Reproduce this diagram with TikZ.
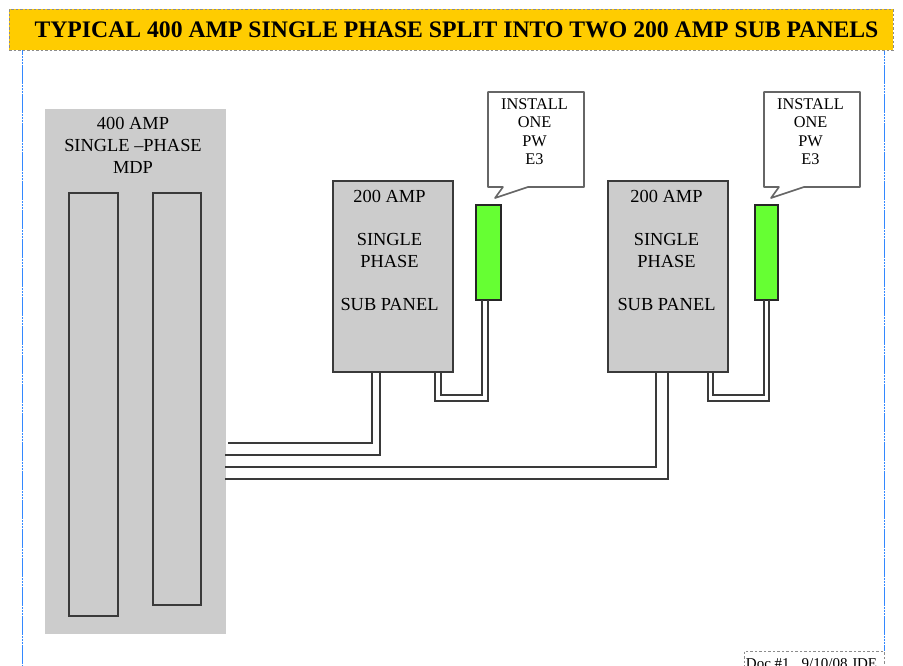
\documentclass[tikz,border=0pt]{standalone}
\usepackage{fontspec}
\setmainfont{Liberation Serif}
\definecolor{panelgrey}{HTML}{CCCCCC}
\definecolor{titlegold}{HTML}{FFCC00}
\definecolor{pwgreen}{HTML}{66FF33}
\definecolor{wirecol}{HTML}{3A3A3A}
\definecolor{edgeblue}{HTML}{3388FF}
\tikzset{
  x=1pt,y=-1pt,
  box/.style 2 args={draw=none,inner sep=0pt,outer sep=0pt,minimum width=#1 pt,minimum height=#2 pt,anchor=north west},
  panel/.style={fill=panelgrey,draw=wirecol,line width=1.1pt},
  mdpbox/.style={fill=panelgrey,draw=none},
  pwbox/.style={fill=pwgreen,draw=black!85,line width=1.2pt},
  callout/.style={fill=white,draw=black!60,line width=1.6pt,line join=round},
  wire/.style={draw=wirecol,line width=1.2pt,line join=miter},
  dashedge/.style={draw=black!45,line width=1pt,dash pattern=on 2.5pt off 2pt},
  sidebar/.style={draw=edgeblue,line width=1.1pt,dash pattern=on 2.5pt off 0.4pt},
  lab/.style={font=\fontsize{18.4}{21.6}\selectfont,align=center,inner sep=0pt},
  clab/.style={font=\fontsize{16.3}{18.3}\selectfont,align=center,inner sep=0pt},
}
\begin{document}
\begin{tikzpicture}
\useasboundingbox (0,0) rectangle (903,665);
\clip (0,0) rectangle (903,665);
% page edges
\coordinate (ltop) at (22.5,50); \coordinate (lbot) at (22.5,665);
\coordinate (rtop) at (884.5,50); \coordinate (rbot) at (884.5,651);
\draw[sidebar] (ltop) -- (lbot);
\draw[sidebar] (rtop) -- (rbot);
% title
\node[box={884}{41},fill=titlegold,dashedge,font=\bfseries\fontsize{23.7}{26}\selectfont] (title) at (9,9) {\hspace*{11pt}TYPICAL 400 AMP SINGLE PHASE SPLIT INTO TWO 200 AMP SUB PANELS};
% doc tag
\node[box={140}{30},dashedge,fill=white] (doc) at (744,651) {};
\node[font=\fontsize{15}{18}\selectfont,inner sep=0pt,anchor=base] (doctext) at (811.5,668) {Doc \#1\hspace{0.8em}9/10/08 JDE};
% MDP
\node[box={181}{525},mdpbox] (mdp) at (45,109) {};
\node[lab,anchor=north] (mdplabel) at (133,117.5) {400 AMP\\SINGLE –PHASE\\MDP};
\node[box={49}{423},panel] (barA) at (69,193) {};
\node[box={48}{412},panel] (barB) at (153,193) {};
% sub panels
\node[box={120}{191},panel] (subA) at (333,181) {};
\node[lab,anchor=north] (subAlabel) at (389.5,190) {200 AMP\\[0pt]\\[-0.1pt]SINGLE\\PHASE\\[0pt]\\[-0.1pt]SUB PANEL};
\node[box={120}{191},panel] (subB) at (608,181) {};
\node[lab,anchor=north] (subBlabel) at (666.5,190) {200 AMP\\[0pt]\\[-0.1pt]SINGLE\\PHASE\\[0pt]\\[-0.1pt]SUB PANEL};
% PW boxes
\node[box={25}{95},pwbox] (pwA) at (476,205) {};
\node[box={23}{95},pwbox] (pwB) at (755,205) {};
% callouts
\draw[callout] (488,92) -- (584,92) -- (584,187) -- (528,187) -- (495,198) -- (503,187) -- (488,187) -- cycle;
\node[clab,anchor=north] (calloutA) at (534.5,98.5) {INSTALL\\ONE\\PW\\E3};
\draw[callout] (764,92) -- (860,92) -- (860,187) -- (804,187) -- (771,198) -- (779,187) -- (764,187) -- cycle;
\node[clab,anchor=north] (calloutB) at (810.5,98.5) {INSTALL\\ONE\\PW\\E3};
% feeders
\coordinate (f1) at (228,443); \coordinate (f2) at (225,455);
\coordinate (f3) at (225,467); \coordinate (f4) at (225,479);
\draw[wire] (f1) -| (subA.south -| 372,0);
\draw[wire] (f2) -| (subA.south -| 380,0);
\draw[wire] (f3) -| (subB.south -| 656,0);
\draw[wire] (f4) -| (subB.south -| 668,0);
% PW wiring
\draw[wire] (subA.south -| 435,0) |- (488,401) -- (pwA.south -| 488,0);
\draw[wire] (subA.south -| 441,0) |- (482,395) -- (pwA.south -| 482,0);
\draw[wire] (subB.south -| 708,0) |- (769,401) -- (pwB.south -| 769,0);
\draw[wire] (subB.south -| 713,0) |- (764,395) -- (pwB.south -| 764,0);
\end{tikzpicture}
\end{document}
